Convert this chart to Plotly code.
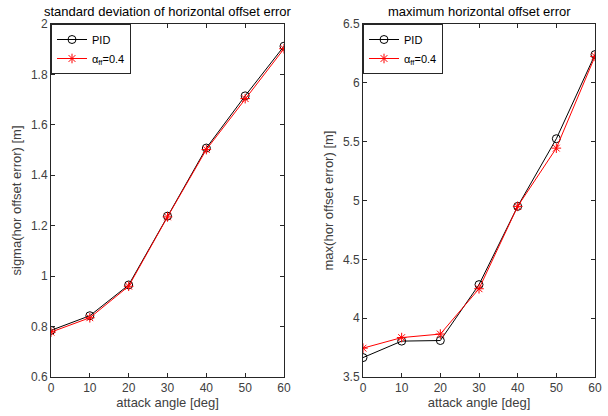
import plotly.graph_objects as go

angles = [0, 10, 20, 30, 40, 50, 60]
sigma_pid = [0.785, 0.843, 0.965, 1.238, 1.508, 1.715, 1.912]
sigma_ff = [0.778, 0.835, 0.960, 1.235, 1.502, 1.704, 1.902]
max_pid = [3.665, 3.805, 3.810, 4.285, 4.950, 5.525, 6.240]
max_ff = [3.745, 3.835, 3.865, 4.250, 4.950, 5.445, 6.225]

titles = ["standard deviation of horizontal offset error", "maximum horizontal offset error"]
ylabels = ["sigma(hor offset error) [m]", "max(hor offset error) [m]"]
xlabel = "attack angle [deg]"
xticks = [0, 10, 20, 30, 40, 50, 60]
yticks_left = [0.6, 0.8, 1.0, 1.2, 1.4, 1.6, 1.8, 2.0]
yticks_right = [3.5, 4.0, 4.5, 5.0, 5.5, 6.0, 6.5]
name_pid = "PID"
name_ff = "α<sub>ff</sub>=0.4"

FONT = "Liberation Sans, Arial, sans-serif"
AX = "#262626"
TXT = "#404040"

fig = go.Figure()

def add(x, y, name, color, symbol, xa, ya, legend, size):
    fig.add_trace(go.Scatter(
        x=x, y=y, name=name, mode="lines+markers",
        line=dict(color=color, width=1),
        marker=dict(symbol=symbol, size=size, color=color, line=dict(color=color, width=1)),
        xaxis=xa, yaxis=ya, legend=legend))

add(angles, sigma_pid, name_pid, "black", "circle-open", "x", "y", "legend", 8)
add(angles, sigma_ff, name_ff, "red", "asterisk-open", "x", "y", "legend", 8)
add(angles, max_pid, name_pid, "black", "circle-open", "x2", "y2", "legend2", 8)
add(angles, max_ff, name_ff, "red", "asterisk-open", "x2", "y2", "legend2", 8)

W, H = 608, 416
L1, R1 = 51, 284
L2, R2 = 363, 595
T, B = 24, 377

def fx(px):
    return px / W

def fy(py):
    return 1 - py / H

axcommon = dict(showgrid=False, zeroline=False, showline=True, linecolor=AX, linewidth=1,
                mirror="ticks", ticks="inside", ticklen=4, tickcolor=AX, automargin=False,
                tickfont=dict(family=FONT, size=12, color=TXT))

legcommon = dict(xanchor="left", yanchor="top", bgcolor="white",
                 bordercolor=AX, borderwidth=1, font=dict(size=11, color="black"),
                 tracegroupgap=0, itemwidth=30)

fig.update_layout(
    width=W, height=H, margin=dict(l=0, r=0, t=0, b=0),
    paper_bgcolor="white", plot_bgcolor="white",
    font=dict(family=FONT, size=12, color=TXT),
    xaxis=dict(domain=[fx(L1), fx(R1)], range=[0, 60], tickvals=xticks, anchor="y",
               title=dict(text=xlabel, font=dict(size=13, color=TXT), standoff=3), **axcommon),
    yaxis=dict(domain=[fy(B), fy(T)], range=[0.6, 2.0], tickvals=yticks_left,
               ticktext=[f"{v:g}" for v in yticks_left], anchor="x",
               title=dict(text=ylabels[0], font=dict(size=13, color=TXT), standoff=6), **axcommon),
    xaxis2=dict(domain=[fx(L2), fx(R2)], range=[0, 60], tickvals=xticks, anchor="y2",
                title=dict(text=xlabel, font=dict(size=13, color=TXT), standoff=3), **axcommon),
    yaxis2=dict(domain=[fy(B), fy(T)], range=[3.5, 6.5], tickvals=yticks_right,
                ticktext=[f"{v:g}" for v in yticks_right], anchor="x2",
                title=dict(text=ylabels[1], font=dict(size=13, color=TXT), standoff=6), **axcommon),
    legend=dict(x=fx(L1), y=fy(T), **legcommon),
    legend2=dict(x=fx(L2), y=fy(T), **legcommon),
    annotations=[
        dict(text=titles[0], x=(fx(L1) + fx(R1)) / 2, y=fy(T) + 0.008, xref="paper", yref="paper",
             xanchor="center", yanchor="bottom", showarrow=False, font=dict(size=13, color="black")),
        dict(text=titles[1], x=(fx(L2) + fx(R2)) / 2, y=fy(T) + 0.008, xref="paper", yref="paper",
             xanchor="center", yanchor="bottom", showarrow=False, font=dict(size=13, color="black")),
    ],
)

fig.write_html("out.html", config={"displayModeBar": False},
               post_script="document.body.style.margin='0';document.body.style.overflow='hidden';")
